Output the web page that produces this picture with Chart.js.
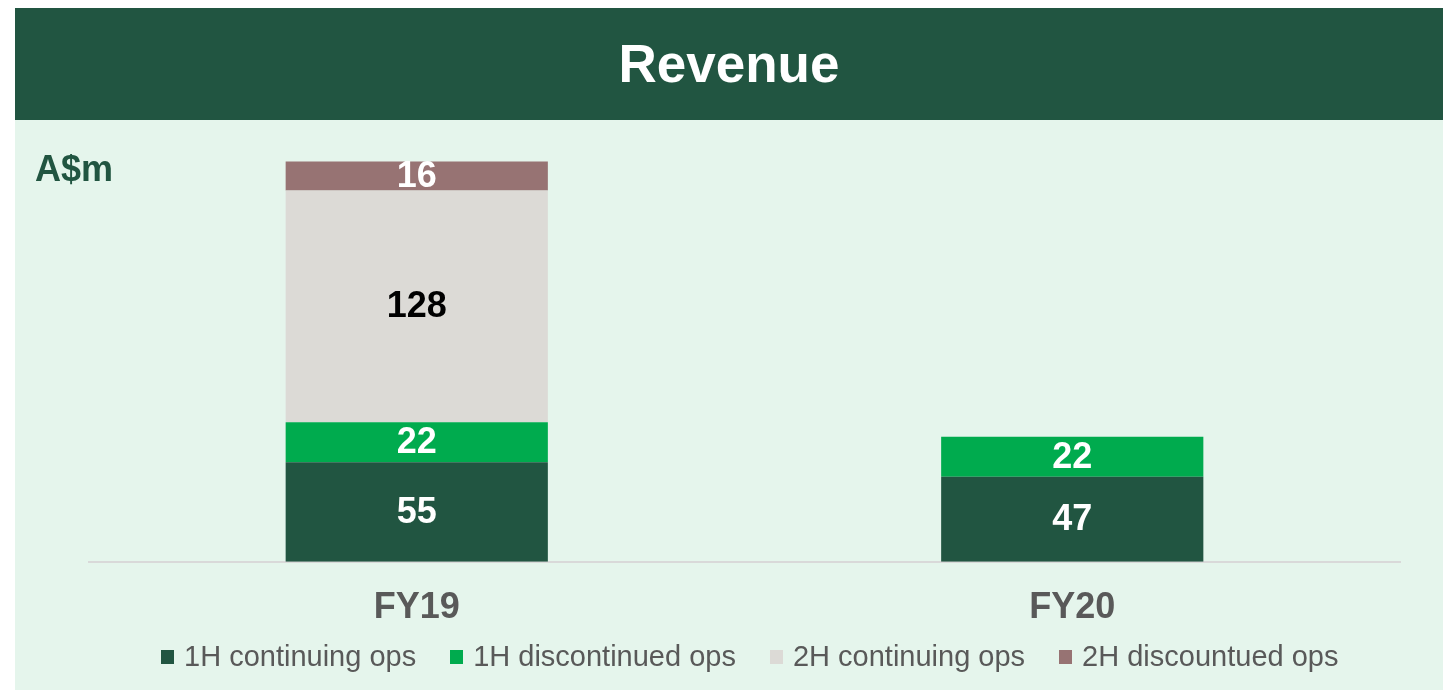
<!DOCTYPE html>
<html>
<head>
<meta charset="utf-8">
<title>Revenue</title>
<script src="https://cdn.jsdelivr.net/npm/chart.js@4.4.0/dist/chart.umd.min.js"></script>
<style>
  body {
    margin: 0;
    background: #ffffff;
    width: 1443px;
    height: 690px;
    overflow: hidden;
    font-family: "Liberation Sans", Arial, sans-serif;
  }
  .header {
    position: absolute;
    left: 15px;
    top: 8px;
    width: 1428px;
    height: 112px;
    background: #215541;
    color: #ffffff;
    font-weight: bold;
    font-size: 53px;
    line-height: 112px;
    text-align: center;
  }
  .panel {
    position: absolute;
    left: 15px;
    top: 120px;
    width: 1428px;
    height: 570px;
    background: #e5f5ec;
  }
  .unit {
    position: absolute;
    left: 20px;
    top: 31px;
    font-weight: bold;
    font-size: 36px;
    line-height: 36px;
    color: #215541;
  }
  canvas {
    position: absolute;
    left: 0;
    top: 0;
  }
  #legend {
    position: absolute;
    left: 146px;
    top: 522px;
    display: flex;
    align-items: center;
    font-size: 29px;
    line-height: 29px;
    color: #595959;
    white-space: nowrap;
  }
  #legend .item {
    display: flex;
    align-items: center;
    margin-right: 34px;
  }
  #legend .box {
    width: 13px;
    height: 14px;
    margin-right: 10px;
  }
</style>
</head>
<body>
<div class="header">Revenue</div>
<div class="panel">
  <canvas id="revenueChart" width="1428" height="570"></canvas>
  <div class="unit">A$m</div>
  <div id="legend"></div>
</div>

<script>
// dữ liệu biểu đồ
const categories = ["FY19", "FY20"];
const seriesNames = [
  "1H continuing ops",
  "1H discontinued ops",
  "2H continuing ops",
  "2H discountued ops",
];
const cont1H = [55, 47];
const discont1H = [22, 22];
const cont2H = [128, null];
const discont2H = [16, null];

const seriesColors = ["#215541", "#00ab4e", "#dcdad6", "#977373"];
const labelColors = ["#ffffff", "#ffffff", "#000000", "#ffffff"];
const FONT = '"Liberation Sans", Arial, sans-serif';

// vẽ số ở giữa mỗi đoạn cột
const barLabels = {
  id: "barLabels",
  afterDatasetsDraw(chart) {
    const ctx = chart.ctx;
    ctx.save();
    ctx.font = "bold 36px " + FONT;
    ctx.textAlign = "center";
    ctx.textBaseline = "middle";
    chart.data.datasets.forEach((ds, i) => {
      const meta = chart.getDatasetMeta(i);
      meta.data.forEach((bar, j) => {
        const v = ds.data[j];
        if (v == null) return;
        ctx.fillStyle = labelColors[i];
        ctx.fillText(String(v), bar.x, (bar.y + bar.base) / 2 + 1);
      });
    });
    ctx.restore();
  },
};

const seriesData = [cont1H, discont1H, cont2H, discont2H];

const chart = new Chart(document.getElementById("revenueChart"), {
  type: "bar",
  data: {
    labels: categories,
    datasets: seriesData.map((d, i) => ({
      label: seriesNames[i],
      data: d,
      backgroundColor: seriesColors[i],
      borderWidth: 0,
      categoryPercentage: 1,
      barPercentage: 0.4,
    })),
  },
  options: {
    responsive: false,
    animation: false,
    layout: {
      padding: { left: 74, right: 43, top: 7, bottom: 35 },
    },
    scales: {
      x: {
        stacked: true,
        grid: { display: false, drawTicks: false },
        border: { display: true, color: "#d9d9d9", width: 2 },
        ticks: {
          color: "#595959",
          padding: 25,
          font: { size: 36, weight: "bold", family: FONT },
        },
      },
      y: {
        stacked: true,
        display: false,
        min: 0,
        max: 240,
      },
    },
    plugins: {
      legend: { display: false },
      tooltip: { enabled: false },
    },
  },
  plugins: [barLabels],
});

// chú thích HTML, lấy từ các dataset của biểu đồ
const legendEl = document.getElementById("legend");
chart.data.datasets.forEach((ds) => {
  const item = document.createElement("div");
  item.className = "item";
  const box = document.createElement("span");
  box.className = "box";
  box.style.background = ds.backgroundColor;
  const text = document.createElement("span");
  text.textContent = ds.label;
  item.appendChild(box);
  item.appendChild(text);
  legendEl.appendChild(item);
});
</script>
</body>
</html>
